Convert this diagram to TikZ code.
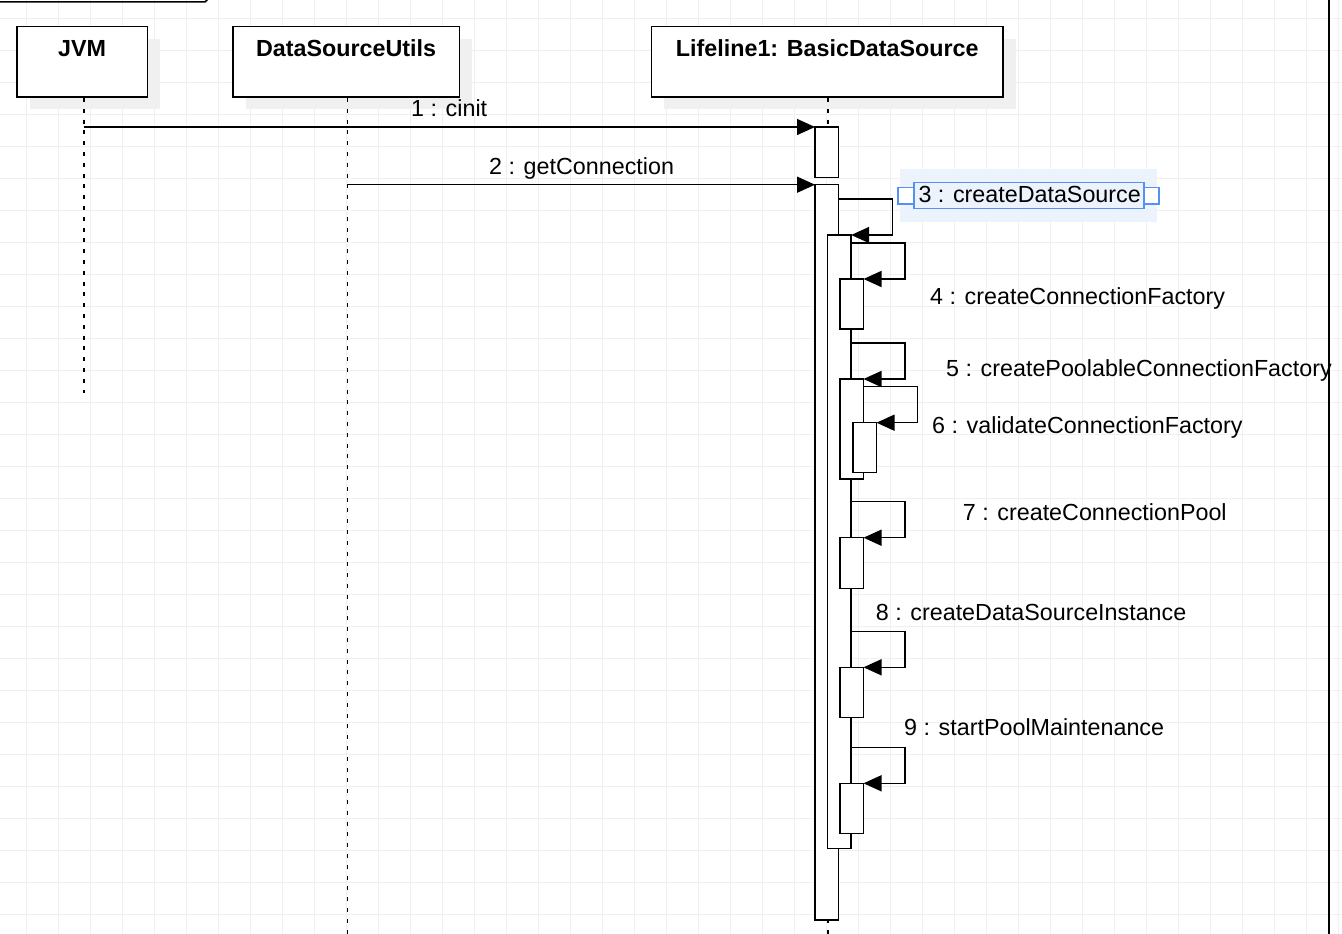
\documentclass[tikz,border=0pt]{standalone}
\usepackage{fontspec}
\setmainfont{Liberation Sans}
\usetikzlibrary{arrows.meta,shadows}

\definecolor{selblue}{HTML}{5591F2}
\definecolor{selfill}{HTML}{ECF3FD}

\tikzset{
  head/.style={draw, fill=white, anchor=north west, minimum height=70.5pt,
    inner sep=0pt, line width=1.5pt,
    drop shadow={shadow xshift=13pt, shadow yshift=-12pt, fill=black!6, opacity=1}},
  headtext/.style={anchor=base, yshift=-31pt, inner sep=0pt,
    font=\fontsize{23.3}{28}\selectfont\bfseries},
  bar/.style={draw, fill=white, anchor=north west, minimum width=23.5pt,
    inner sep=0pt, outer sep=0pt, line width=1.5pt},
  life/.style={line width=1.6pt, dash pattern=on 4pt off 6.8pt},
  msg/.style={line width=1.5pt, -{Triangle[length=18pt,width=16pt]}},
  lbl/.style={anchor=base west, inner sep=0pt, font=\fontsize{23.3}{28}\selectfont},
  gridline/.style={gray!12, line width=0.8pt}
}

\begin{document}
\begin{tikzpicture}[x=1pt, y=-1pt]
  \useasboundingbox (0,0) rectangle (1342,934);
  \fill[white] (0,0) rectangle (1342,934);

  % background grid
  \foreach \i in {0,...,41}
    \draw[gridline] (26.7+32*\i,0) -- (26.7+32*\i,934);
  \foreach \j in {0,...,29}
    \draw[gridline] (0,18.7+32*\j) -- (1342,18.7+32*\j);

  % frame edges
  \draw[line width=1.5pt] (-2,2) -- (205,2) -- (212,-5);
  \draw[line width=1.5pt] (1329,-2) -- (1329,936);

  % lifeline heads
  \node[head, minimum width=130.7pt, label={[headtext]north:JVM}] (jvm) at (16,26) {};
  \node[head, minimum width=226.7pt, label={[headtext]north:DataSourceUtils}] (utils) at (232,26) {};
  \node[head, minimum width=351.6pt, label={[headtext]north:Lifeline1: BasicDataSource}] (bds) at (650.7,26) {};

  \coordinate (jvmend) at (84,393);
  \coordinate (utilsend) at (347.3,934);
  \coordinate (bdsend) at (828.2,934);
  \draw[life] (jvm.south -| jvmend) -- (jvmend);
  \draw[life] (utils.south -| utilsend) -- (utilsend);
  \draw[life] (bds.south -| bdsend) -- (bdsend);

  % activations
  \node[bar, minimum height=50.5pt] (a1) at (815,127) {};
  \node[bar, minimum height=735.3pt] (a2) at (815,184.7) {};
  \node[bar, minimum height=613.3pt] (a3) at (827.7,235) {};
  \node[bar, minimum height=50pt] (a4) at (840,279) {};
  \node[bar, minimum height=100pt] (a5) at (840,379) {};
  \node[bar, minimum height=50pt] (a6) at (853,422.7) {};
  \node[bar, minimum height=50.6pt] (a7) at (840,537.7) {};
  \node[bar, minimum height=50.4pt] (a8) at (840,667.3) {};
  \node[bar, minimum height=50pt] (a9) at (840,783.3) {};

  \begin{scope}[msg]
    \draw (a1.north west -| jvmend) -- (a1.north west);
    \draw (a2.north west -| utilsend) -- (a2.north west);
    \draw ([yshift=36pt]a3.north -| a2.east) -- ++(54,0) |- (a3.north east);
    \draw ([yshift=36pt]a4.north -| a3.east) -- ++(54,0) |- (a4.north east);
    \draw ([yshift=36pt]a5.north -| a3.east) -- ++(54,0) |- (a5.north east);
    \draw ([yshift=36pt]a6.north -| a5.east) -- ++(54,0) |- (a6.north east);
    \draw ([yshift=36pt]a7.north -| a3.east) -- ++(54,0) |- (a7.north east);
    \draw ([yshift=36pt]a8.north -| a3.east) -- ++(54,0) |- (a8.north east);
    \draw ([yshift=36pt]a9.north -| a3.east) -- ++(54,0) |- (a9.north east);
  \end{scope}

  % selected label
  \fill[selfill] (900,169.3) rectangle (1156.7,221.7);

  \node[lbl] (m1) at (411,116) {1 : cinit};
  \node[lbl] (m2) at (489,174) {2 : getConnection};
  \node[lbl] (m3) at (918.3,202.7) {3 : createDataSource};
  \node[lbl] (m4) at (930,304) {4 : createConnectionFactory};
  \node[lbl] (m5) at (946,376.7) {5 : createPoolableConnectionFactory};
  \node[lbl] (m6) at (932,433.3) {6 : validateConnectionFactory};
  \node[lbl] (m7) at (962.7,520) {7 : createConnectionPool};
  \node[lbl] (m8) at (875.7,620) {8 : createDataSourceInstance};
  \node[lbl] (m9) at (904,735) {9 : startPoolMaintenance};

  \draw[selblue, line width=1.2pt] (914,182.7) rectangle (1144,208.3);
  \draw[selblue, fill=white, line width=1.2pt] (898,187.7) rectangle (914,204);
  \draw[selblue, fill=white, line width=1.2pt] (1144,187.7) rectangle (1159,204);
\end{tikzpicture}
\end{document}
